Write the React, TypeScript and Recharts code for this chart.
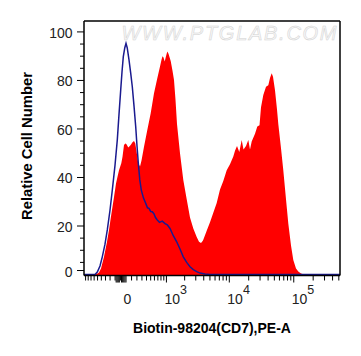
import { ComposedChart, Area, Line, XAxis, YAxis, Label } from 'recharts';

const FONT = '"Liberation Sans", Arial, sans-serif';

// x in display channels (0..256 across the plot), y = relative cell number
const RED_CH = [
  0, 10, 13, 15, 17, 20, 23, 25, 27, 30, 32, 33.5, 35, 37.3, 38.5, 40, 41.3, 42.3, 44.3, 46.7,
  48.5, 50, 51.3, 52.3, 54.3, 56, 57.5, 60, 63.3, 66.7, 70, 73.3, 76, 77.5, 78.5, 79.5, 80.7, 82,
  83.3, 84.5, 86.7, 88.5, 90, 91.5, 93, 96, 99.3, 102.7, 106, 109.3, 112.7, 115, 117, 119, 122.7,
  126, 129.3, 132.7, 136, 139.3, 142.7, 146, 149.3, 151, 153, 155.3, 157.7, 159.5, 162, 164.3, 166,
  167.7, 171, 173.3, 175.5, 177, 179.3, 182, 184.3, 186, 187.7, 189, 191, 193, 194.3, 197, 199.3,
  202, 204.3, 207, 209.3, 212, 214.3, 217, 220, 256,
];
const RED_COUNT = [
  0, 0, 0.3, 0.8, 2.5, 7.3, 13.5, 18.4, 24, 32, 37.5, 40.3, 43, 45.9, 48.5, 53.4, 54, 53.8, 52.4, 53.4,
  54.5, 55, 54, 51.3, 45.9, 44.5, 47, 52.7, 59.6, 66.5, 74.7, 80.9, 85.7, 88.5, 90, 89.5, 87.8, 90,
  91.9, 91, 88, 84, 80.2, 72, 62, 50, 39, 31, 23.5, 19, 15.5, 13.5, 13, 14, 18,
  21.5, 25.5, 29.5, 35, 38.5, 43, 45.5, 48.6, 51, 53, 50.5, 55.5, 51.5, 53, 55.5, 51.5,
  54.8, 58, 61, 61.5, 69, 74, 77.4, 78, 81, 83, 81.5, 76, 68, 62, 52, 43,
  31, 21, 12, 6, 2.5, 1.2, 0.4, 0, 0,
];

const BLUE_CH = [
  0, 11, 13.3, 16, 18.3, 21, 23.3, 26, 28.3, 31, 33.3, 35, 36.7, 38, 39.3, 40.8, 42, 43.2, 45,
  46.7, 48.3, 50, 51.7, 53, 54.3, 55.8, 57.3, 59.5, 61.7, 63.5, 65, 66.7, 68.3, 70, 71.5, 73.3,
  75.5, 78.3, 81, 83.3, 86, 89.3, 92.7, 96, 99.3, 102.7, 106, 109.3, 112.7, 116, 121, 126, 256,
];
const BLUE_COUNT = [
  0, 0, 1, 3.5, 7.3, 12.5, 18.4, 26.5, 34.8, 45, 55.5, 66, 76, 83.5, 89.8, 93.5, 95.3, 93.5, 88.5,
  83, 77.4, 69.5, 61, 53, 45.9, 39, 34.8, 31.5, 29.4, 27.5, 27.3, 26, 25.9, 25, 23.5, 22.5,
  21.5, 22, 21, 20.5, 19, 16, 13.5, 10.5, 7.3, 5, 3.2, 2, 1.2, 0.6, 0.2, 0, 0,
];

// x tick values in fluorescence units
const X_MAJOR = [0, 1000, 10000, 100000];
const X_MAJOR_EXP = ['', '3', '4', '5'];
const X_MINOR = [
  -1000, -900, -800, -700, -600, -500, -400, -300, -200, -100,
  100, 200, 300, 400, 500, 600, 700, 800, 900,
  2000, 3000, 4000, 5000, 6000, 7000, 8000, 9000,
  20000, 30000, 40000, 50000, 60000, 70000, 80000, 90000,
  200000, 300000, 400000, 500000,
];
const X_NEAR_ZERO = [-180, -160, -140, -120, -80, -60, -40, -20];

const Y_TICKS = [0, 5, 10, 15, 20, 25, 30, 35, 40, 45, 50, 55, 60, 65, 70, 75, 80, 85, 90, 95, 100];
const Y_LABELED = [0, 20, 40, 60, 80, 100];

// logicle-like display transform: value -> channel
const toCh = (v: number) => 42 + 28 * Math.asinh(v / 500);

const redData = RED_CH.map((ch, i) => ({ ch, count: RED_COUNT[i] }));
const blueData = BLUE_CH.map((ch, i) => ({ ch, count: BLUE_COUNT[i] }));

type TickKind = { kind: 'major' | 'minor' | 'fine'; exp?: string };
const tickInfo = new Map<string, TickKind>();
X_MINOR.forEach((v) => tickInfo.set(toCh(v).toFixed(3), { kind: 'minor' }));
X_NEAR_ZERO.forEach((v) => tickInfo.set(toCh(v).toFixed(3), { kind: 'fine' }));
X_MAJOR.forEach((v, i) => tickInfo.set(toCh(v).toFixed(3), { kind: 'major', exp: X_MAJOR_EXP[i] }));
const xTicks = [...X_MINOR, ...X_NEAR_ZERO, ...X_MAJOR].map(toCh).sort((a, b) => a - b);

const XTick = (props: any) => {
  const { x, y, payload } = props;
  const info = tickInfo.get(Number(payload.value).toFixed(3)) || { kind: 'minor' };
  const len = info.kind === 'minor' ? 5 : 7;
  return (
    <g>
      <line x1={x} x2={x} y1={y} y2={y + len} stroke="#000" strokeWidth={1} />
      {info.kind === 'major' && info.exp === '' && (
        <text x={x + 1.5} y={y + 28} textAnchor="middle" fontSize={14} fontFamily={FONT} fill="#222">
          0
        </text>
      )}
      {info.kind === 'major' && info.exp !== '' && (
        <text x={x - 2} y={y + 28} textAnchor="start" fontSize={14} fontFamily={FONT} fill="#222">
          <tspan>10</tspan>
          <tspan dy={-10} fontSize={12.5}>{info.exp}</tspan>
        </text>
      )}
    </g>
  );
};

const YTick = (props: any) => {
  const { x, y, payload } = props;
  const labeled = Y_LABELED.includes(payload.value);
  const yy = payload.value === 0 ? y - 4 : y;
  return (
    <g>
      <line x1={x - (labeled ? 7 : 4)} x2={x} y1={yy} y2={yy} stroke="#000" strokeWidth={1} />
      {labeled && (
        <text x={x - 11.5} y={yy + 6} textAnchor="end" fontSize={14} fontFamily={FONT} fill="#222">
          {payload.value}
        </text>
      )}
    </g>
  );
};

export default function App() {
  return (
    <div style={{ position: 'fixed', left: 0, top: 0, width: 361, height: 356, background: '#fff' }}>
      <ComposedChart width={361} height={356} data={redData} margin={{ top: 20, right: 20, bottom: 0, left: 0 }}>
        <Area
          data={redData}
          dataKey="count"
          type="linear"
          fill="#ff0000"
          fillOpacity={1}
          stroke="none"
          baseValue="dataMin"
          isAnimationActive={false}
        />
        <Line
          data={blueData}
          dataKey="count"
          type="linear"
          stroke="#1a1a8f"
          strokeWidth={1.5}
          dot={false}
          isAnimationActive={false}
        />
        <XAxis
          dataKey="ch"
          type="number"
          domain={[0, 256]}
          ticks={xTicks}
          interval={0}
          allowDataOverflow
          height={80.5}
          tickSize={0}
          tickMargin={0}
          tickLine={false}
          axisLine={{ stroke: '#000', strokeWidth: 1.5 }}
          tick={(p: any) => <XTick {...p} />}
        >
          <Label
            value="Biotin-98204(CD7),PE-A"
            position="insideBottom"
            offset={22.7}
            style={{ fontWeight: 'bold', fontSize: 14, fill: '#000', fontFamily: FONT }}
          />
        </XAxis>
        <XAxis
          xAxisId="top"
          orientation="top"
          type="number"
          domain={[0, 256]}
          height={1}
          tick={false}
          tickLine={false}
          axisLine={{ stroke: '#000', strokeWidth: 1.5 }}
        >
          <Label
            content={() => (
              <text
                x={121.5}
                y={40.3}
                fontSize={20}
                fontStyle="italic"
                fontFamily={FONT}
                fill="#f7f7f7"
                stroke="#d2d2d2"
                strokeWidth={0.5}
                textLength={215}
                lengthAdjust="spacing"
              >
                WWW.PTGLAB.COM
              </text>
            )}
          />
        </XAxis>
        <YAxis
          type="number"
          domain={[-0.4, 104.5]}
          ticks={Y_TICKS}
          interval={0}
          allowDataOverflow
          width={84}
          tickSize={0}
          tickMargin={0}
          tickLine={false}
          axisLine={{ stroke: '#000', strokeWidth: 1.5 }}
          tick={(p: any) => <YTick {...p} />}
        >
          <Label
            content={() => (
              <text
                x={32}
                y={146}
                transform="rotate(-90 32 146)"
                textAnchor="middle"
                fontSize={14.8}
                fontWeight="bold"
                fontFamily={FONT}
                fill="#000"
              >
                Relative Cell Number
              </text>
            )}
          />
        </YAxis>
        <YAxis
          yAxisId="right"
          orientation="right"
          type="number"
          domain={[-0.4, 104.5]}
          width={1}
          tick={false}
          tickLine={false}
          axisLine={{ stroke: '#000', strokeWidth: 1.5 }}
        />
      </ComposedChart>
    </div>
  );
}
